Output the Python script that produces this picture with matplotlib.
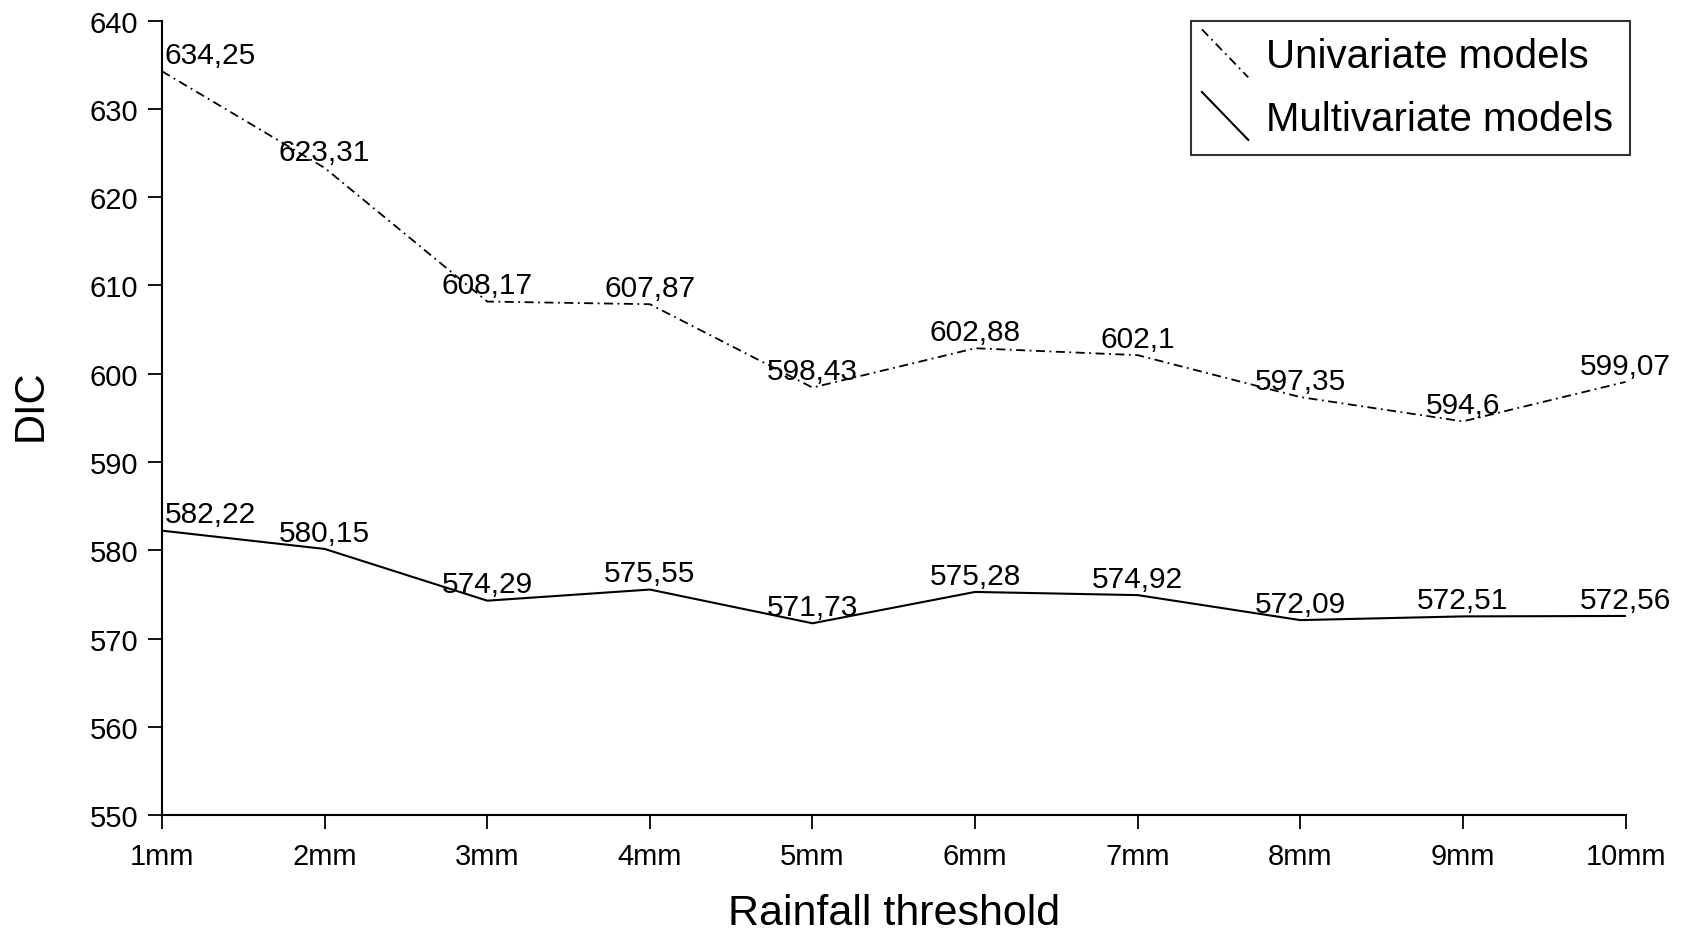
import matplotlib
matplotlib.use("Agg")
import matplotlib.pyplot as plt
from matplotlib.lines import Line2D
from matplotlib.legend_handler import HandlerBase

plt.rcParams['font.family'] = ['Liberation Sans', 'DejaVu Sans']

thresholds = ["1mm", "2mm", "3mm", "4mm", "5mm", "6mm", "7mm", "8mm", "9mm", "10mm"]
univariate = [634.25, 623.31, 608.17, 607.87, 598.43, 602.88, 602.1, 597.35, 594.6, 599.07]
multivariate = [582.22, 580.15, 574.29, 575.55, 571.73, 575.28, 574.92, 572.09, 572.51, 572.56]
uni_labels = ["634,25", "623,31", "608,17", "607,87", "598,43", "602,88", "602,1", "597,35", "594,6", "599,07"]
multi_labels = ["582,22", "580,15", "574,29", "575,55", "571,73", "575,28", "574,92", "572,09", "572,51", "572,56"]
yticks = [550, 560, 570, 580, 590, 600, 610, 620, 630, 640]


class DiagHandler(HandlerBase):
    def create_artists(self, legend, orig_handle, xdescent, ydescent,
                       width, height, fontsize, trans):
        x0, y0 = -xdescent - 4, -ydescent
        line = Line2D([x0, x0 + width], [y0 + 1.35 * height, y0 - 0.35 * height],
                      color=orig_handle.get_color(),
                      linestyle=orig_handle.get_linestyle(),
                      linewidth=orig_handle.get_linewidth(),
                      transform=trans)
        if orig_handle.get_linestyle() not in ('-', 'solid'):
            line.set_dashes((5, 2.5, 1, 2.5))
        return [line]


fig = plt.figure(figsize=(16.88, 9.37), dpi=100)
ax = fig.add_axes([0.096, 0.129, 0.867, 0.848])

x = list(range(len(thresholds)))
l1, = ax.plot(x, univariate, color='black', linewidth=1.3, dashes=(5, 2.5, 1, 2.5),
              label='Univariate models')
l2, = ax.plot(x, multivariate, color='black', linewidth=1.5, linestyle='-',
              label='Multivariate models')

for series, labels in ((univariate, uni_labels), (multivariate, multi_labels)):
    for i, (v, t) in enumerate(zip(series, labels)):
        ha = 'left' if i == 0 else 'center'
        ax.annotate(t, (i, v), xytext=(2 if i == 0 else 0, 6), textcoords='offset points',
                    ha=ha, va='baseline', fontsize=21.5)

ax.set_xlim(0, len(thresholds) - 1)
ax.set_ylim(550, 640)
ax.set_xticks(x)
ax.set_xticklabels(thresholds)
ax.set_yticks(yticks)
ax.tick_params(axis='both', direction='out', length=10, width=1.3, labelsize=21, colors='black')
ax.tick_params(axis='x', pad=9)
ax.tick_params(axis='y', pad=7)

for s in ['top', 'right']:
    ax.spines[s].set_visible(False)
for s in ['left', 'bottom']:
    ax.spines[s].set_linewidth(1.5)
    ax.spines[s].set_color('black')

ax.set_xlabel('Rainfall threshold', fontsize=31, labelpad=17)
ax.set_ylabel('DIC', fontsize=30, va='center')
ax.yaxis.set_label_coords(-0.0895, 0.517)

leg = ax.legend(handles=[l1, l2], loc='upper right', bbox_to_anchor=(1.003, 1.0),
                borderaxespad=0, fontsize=29, frameon=True, fancybox=False,
                edgecolor='black', handlelength=1.15, handletextpad=0.3,
                borderpad=0.42, labelspacing=0.61,
                handler_map={Line2D: DiagHandler()})
leg.get_frame().set_linewidth(1.5)

fig.savefig('out.png', dpi=100)
